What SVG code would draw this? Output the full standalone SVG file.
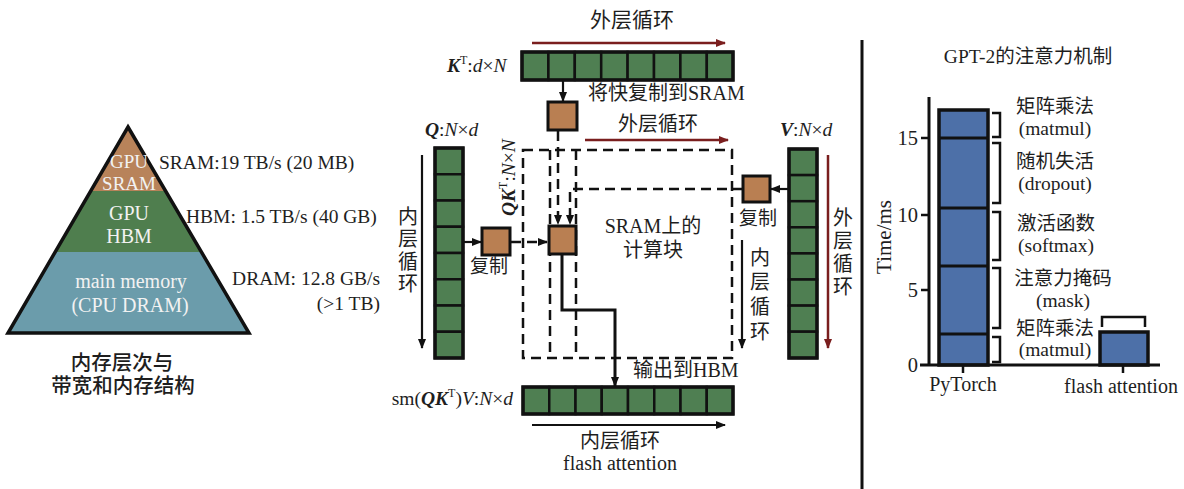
<svg xmlns="http://www.w3.org/2000/svg" width="1184" height="489" viewBox="0 0 1184 489">
<style>
text{font-family:"Liberation Serif","Noto Sans CJK SC",serif;fill:#1e1e1e}
.w{fill:#f2f2f2}
.cell{fill:#4f7f52;stroke:#111;stroke-width:2.5}
.frame{fill:none;stroke:#111;stroke-width:3.5}
.box{fill:#b97f52;stroke:#111;stroke-width:3}
.dash{fill:none;stroke:#111;stroke-width:2.5;stroke-dasharray:10 6}
.blk{fill:none;stroke:#111;stroke-width:2.2}
.red{fill:none;stroke:#7a1e1e;stroke-width:2.5}
.bar{fill:#4d70a8;stroke:#111;stroke-width:3.5}
.br{fill:none;stroke:#111;stroke-width:2.5}
.bi{font-weight:bold;font-style:italic}
.it{font-style:italic}
</style>
<defs>
<marker id="ab" markerUnits="userSpaceOnUse" markerWidth="10" markerHeight="10" refX="9" refY="5" orient="auto"><path d="M0,1 L10,5 L0,9 z" fill="#111"/></marker>
<marker id="ar" markerUnits="userSpaceOnUse" markerWidth="10" markerHeight="10" refX="9" refY="5" orient="auto"><path d="M0,1 L10,5 L0,9 z" fill="#7a1e1e"/></marker>
</defs>
<rect width="1184" height="489" fill="#ffffff"/>

<!-- Pyramid -->
<g id="pyramid">
<polygon points="128,127 90.7,191 165.6,191" fill="#b8835a"/>
<polygon points="90.7,191 165.6,191 201.4,252 55.2,252" fill="#4f7e4e"/>
<polygon points="55.2,252 201.4,252 249,333 8,333" fill="#6b9cab"/>
<polygon points="128,127 249,333 8,333" fill="none" stroke="#111" stroke-width="3.5"/>
<text class="w" x="129" y="168" font-size="19" text-anchor="middle">GPU</text>
<text class="w" x="129" y="190" font-size="19" text-anchor="middle">SRAM</text>
<text class="w" x="129" y="220" font-size="20" text-anchor="middle">GPU</text>
<text class="w" x="129" y="243" font-size="20" text-anchor="middle">HBM</text>
<text class="w" x="131" y="288" font-size="20" text-anchor="middle">main memory</text>
<text class="w" x="130" y="312" font-size="20" text-anchor="middle">(CPU DRAM)</text>
<text x="159" y="169" font-size="19.5">SRAM:19 TB/s (20 MB)</text>
<text x="186" y="223" font-size="19.5">HBM: 1.5 TB/s (40 GB)</text>
<text x="380" y="285" font-size="19.5" text-anchor="end">DRAM: 12.8 GB/s</text>
<text x="380" y="310" font-size="19.5" text-anchor="end">(&gt;1 TB)</text>
<text x="122" y="370" font-size="20.5" font-weight="500" text-anchor="middle">内存层次与</text>
<text x="123" y="393" font-size="20.5" font-weight="500" text-anchor="middle">带宽和内存结构</text>
</g>

<!-- K^T row -->
<g id="kt">
<text x="447" y="72" font-size="19.5"><tspan class="bi">K</tspan><tspan font-size="12" dy="-8">T</tspan><tspan dy="8">:</tspan><tspan class="it">d</tspan>×<tspan class="it">N</tspan></text>
<rect class="cell" x="522" y="52" width="26.4" height="28"/><rect class="cell" x="548.4" y="52" width="26.4" height="28"/><rect class="cell" x="574.8" y="52" width="26.4" height="28"/><rect class="cell" x="601.2" y="52" width="26.4" height="28"/><rect class="cell" x="627.6" y="52" width="26.4" height="28"/><rect class="cell" x="654" y="52" width="26.4" height="28"/><rect class="cell" x="680.4" y="52" width="26.4" height="28"/><rect class="cell" x="706.8" y="52" width="26.2" height="28"/>
<rect class="frame" x="522" y="52" width="211" height="28"/>
</g>

<!-- Q column -->
<g id="q">
<text x="425" y="136" font-size="19.5"><tspan class="bi">Q</tspan>:<tspan class="it">N</tspan>×<tspan class="it">d</tspan></text>
<rect class="cell" x="435" y="148" width="28" height="26.25"/><rect class="cell" x="435" y="174.25" width="28" height="26.25"/><rect class="cell" x="435" y="200.5" width="28" height="26.25"/><rect class="cell" x="435" y="226.75" width="28" height="26.25"/><rect class="cell" x="435" y="253" width="28" height="26.25"/><rect class="cell" x="435" y="279.25" width="28" height="26.25"/><rect class="cell" x="435" y="305.5" width="28" height="26.25"/><rect class="cell" x="435" y="331.75" width="28" height="26.25"/>
<rect class="frame" x="435" y="148" width="28" height="210"/>
</g>

<!-- V column -->
<g id="v">
<text x="780" y="136" font-size="19.5"><tspan class="bi">V</tspan>:<tspan class="it">N</tspan>×<tspan class="it">d</tspan></text>
<rect class="cell" x="789" y="149" width="28" height="26.1"/><rect class="cell" x="789" y="175.1" width="28" height="26.1"/><rect class="cell" x="789" y="201.2" width="28" height="26.1"/><rect class="cell" x="789" y="227.3" width="28" height="26.1"/><rect class="cell" x="789" y="253.4" width="28" height="26.1"/><rect class="cell" x="789" y="279.5" width="28" height="26.1"/><rect class="cell" x="789" y="305.6" width="28" height="26.1"/><rect class="cell" x="789" y="331.7" width="28" height="26.3"/>
<rect class="frame" x="789" y="149" width="28" height="209"/>
</g>

<!-- Output row -->
<g id="out">
<text x="513" y="405" font-size="19.5" text-anchor="end">sm(<tspan class="bi">QK</tspan><tspan font-size="12" dy="-8">T</tspan><tspan dy="8">)</tspan><tspan class="it">V</tspan>:<tspan class="it">N</tspan>×<tspan class="it">d</tspan></text>
<rect class="cell" x="523" y="387" width="26.25" height="27"/><rect class="cell" x="549.25" y="387" width="26.25" height="27"/><rect class="cell" x="575.5" y="387" width="26.25" height="27"/><rect class="cell" x="601.75" y="387" width="26.25" height="27"/><rect class="cell" x="628" y="387" width="26.25" height="27"/><rect class="cell" x="654.25" y="387" width="26.25" height="27"/><rect class="cell" x="680.5" y="387" width="26.25" height="27"/><rect class="cell" x="706.75" y="387" width="26.25" height="27"/>
<rect class="frame" x="523" y="387" width="210" height="27"/>
</g>

<!-- QK^T block -->
<g id="qkt">
<rect class="dash" x="523" y="150" width="209" height="208"/>
<line class="dash" x1="550" y1="150" x2="550" y2="358"/>
<line class="dash" x1="576" y1="150" x2="576" y2="358"/>
<text transform="translate(515,216) rotate(-90)" font-size="19.5"><tspan class="bi">QK</tspan><tspan font-size="12" dy="-8">T</tspan><tspan dy="8">:</tspan><tspan class="it">N</tspan>×<tspan class="it">N</tspan></text>
<text x="653" y="233" font-size="20" text-anchor="middle">SRAM上的</text>
<text x="653" y="257" font-size="20" text-anchor="middle">计算块</text>
</g>

<!-- blocks -->
<g id="kblock"><rect class="box" x="548" y="102" width="29" height="28"/></g>
<g id="qblock"><rect class="box" x="482" y="228" width="28" height="27"/><text x="489" y="273" font-size="19" text-anchor="middle">复制</text></g>
<g id="vblock"><rect class="box" x="743" y="176" width="27" height="26"/><text x="758" y="225" font-size="19" text-anchor="middle">复制</text></g>
<g id="cblock"><rect class="box" x="549" y="226" width="27" height="28"/></g>

<!-- connectors -->
<g id="connectors">
<line class="red" x1="532" y1="43" x2="725" y2="43" marker-end="url(#ar)"/>
<line class="red" x1="585" y1="140" x2="728" y2="140" marker-end="url(#ar)"/>
<line class="red" x1="828" y1="155" x2="828" y2="348" marker-end="url(#ar)"/>
<line class="blk" x1="422" y1="155" x2="422" y2="348" marker-end="url(#ab)"/>
<line class="blk" x1="742" y1="240" x2="742" y2="348" marker-end="url(#ab)"/>
<line class="blk" x1="532" y1="425" x2="725" y2="425" marker-end="url(#ab)"/>
<line class="blk" x1="563" y1="80" x2="563" y2="101" marker-end="url(#ab)"/>
<line class="blk" x1="463" y1="242" x2="481" y2="242" marker-end="url(#ab)"/>
<line class="blk" x1="789" y1="189" x2="771" y2="189" marker-end="url(#ab)"/>
<line class="dash" x1="558" y1="131" x2="558" y2="224" marker-end="url(#ab)" stroke-dasharray="7 4"/>
<polyline class="dash" points="743,189 570,189 570,224" marker-end="url(#ab)" stroke-dasharray="7 4"/>
<line class="dash" x1="511" y1="242" x2="547" y2="242" marker-end="url(#ab)" stroke-dasharray="7 4"/>
<polyline points="562,254 562,310 615,310 615,386" fill="none" stroke="#111" stroke-width="3" marker-end="url(#ab)"/>
</g>

<!-- center labels -->
<g id="labels">
<text x="632" y="27" font-size="21" text-anchor="middle">外层循环</text>
<text x="588" y="100" font-size="20">将快复制到SRAM</text>
<text x="658" y="131" font-size="20" text-anchor="middle">外层循环</text>
<text x="633" y="377" font-size="20">输出到HBM</text>
<text x="620" y="448" font-size="20" text-anchor="middle">内层循环</text>
<text x="620" y="470" font-size="20" text-anchor="middle">flash attention</text>
<g font-size="20" text-anchor="middle">
<text x="408" y="224">内</text><text x="408" y="246">层</text><text x="408" y="269">循</text><text x="408" y="291">环</text>
<text x="843" y="225">外</text><text x="843" y="248">层</text><text x="843" y="271">循</text><text x="843" y="294">环</text>
<text x="760" y="265">内</text><text x="760" y="289">层</text><text x="760" y="314">循</text><text x="760" y="339">环</text>
</g>
</g>

<!-- divider -->
<line x1="862" y1="40" x2="862" y2="489" stroke="#111" stroke-width="3"/>

<!-- chart -->
<g id="chart">
<text x="1028" y="63" font-size="19.5" text-anchor="middle">GPT-2的注意力机制</text>
<rect class="bar" x="939" y="110" width="49" height="255"/>
<line x1="939" y1="138" x2="988" y2="138" stroke="#111" stroke-width="3"/>
<line x1="939" y1="208" x2="988" y2="208" stroke="#111" stroke-width="3"/>
<line x1="939" y1="266" x2="988" y2="266" stroke="#111" stroke-width="3"/>
<line x1="939" y1="334" x2="988" y2="334" stroke="#111" stroke-width="3"/>
<rect class="bar" x="1100" y="332" width="48" height="33"/>
<path class="br" d="M1102,327 V317 H1145 V327"/>
<line x1="929" y1="97" x2="929" y2="366" stroke="#111" stroke-width="3"/>
<line x1="920" y1="365" x2="1160" y2="365" stroke="#111" stroke-width="3"/>
<g stroke="#111" stroke-width="2.5">
<line x1="921" y1="138" x2="929" y2="138"/><line x1="921" y1="215" x2="929" y2="215"/><line x1="921" y1="290" x2="929" y2="290"/>
<line x1="963" y1="365" x2="963" y2="373"/><line x1="1123" y1="365" x2="1123" y2="373"/>
</g>
<g font-size="20.5" text-anchor="end">
<text x="918" y="145">15</text><text x="918" y="222">10</text><text x="918" y="297">5</text><text x="918" y="372">0</text>
</g>
<text transform="translate(891,237) rotate(-90)" font-size="21" text-anchor="middle">Time/ms</text>
<text x="963" y="391" font-size="20" text-anchor="middle">PyTorch</text>
<text x="1121" y="393" font-size="20" text-anchor="middle">flash attention</text>
<path class="br" d="M992,113 H1000 V137 H992"/>
<path class="br" d="M992,143 H1000 V203 H992"/>
<path class="br" d="M992,212 H1000 V260 H992"/>
<path class="br" d="M992,268 H1000 V328 H992"/>
<path class="br" d="M992,337 H1000 V362 H992"/>
<g font-size="19.5" text-anchor="middle">
<text x="1055" y="113">矩阵乘法</text><text x="1055" y="135">(matmul)</text>
<text x="1055" y="168">随机失活</text><text x="1055" y="190">(dropout)</text>
<text x="1056" y="230">激活函数</text><text x="1056" y="252">(softmax)</text>
<text x="1063" y="285">注意力掩码</text><text x="1063" y="307">(mask)</text>
<text x="1055" y="335">矩阵乘法</text><text x="1055" y="356">(matmul)</text>
</g>
</g>
</svg>
